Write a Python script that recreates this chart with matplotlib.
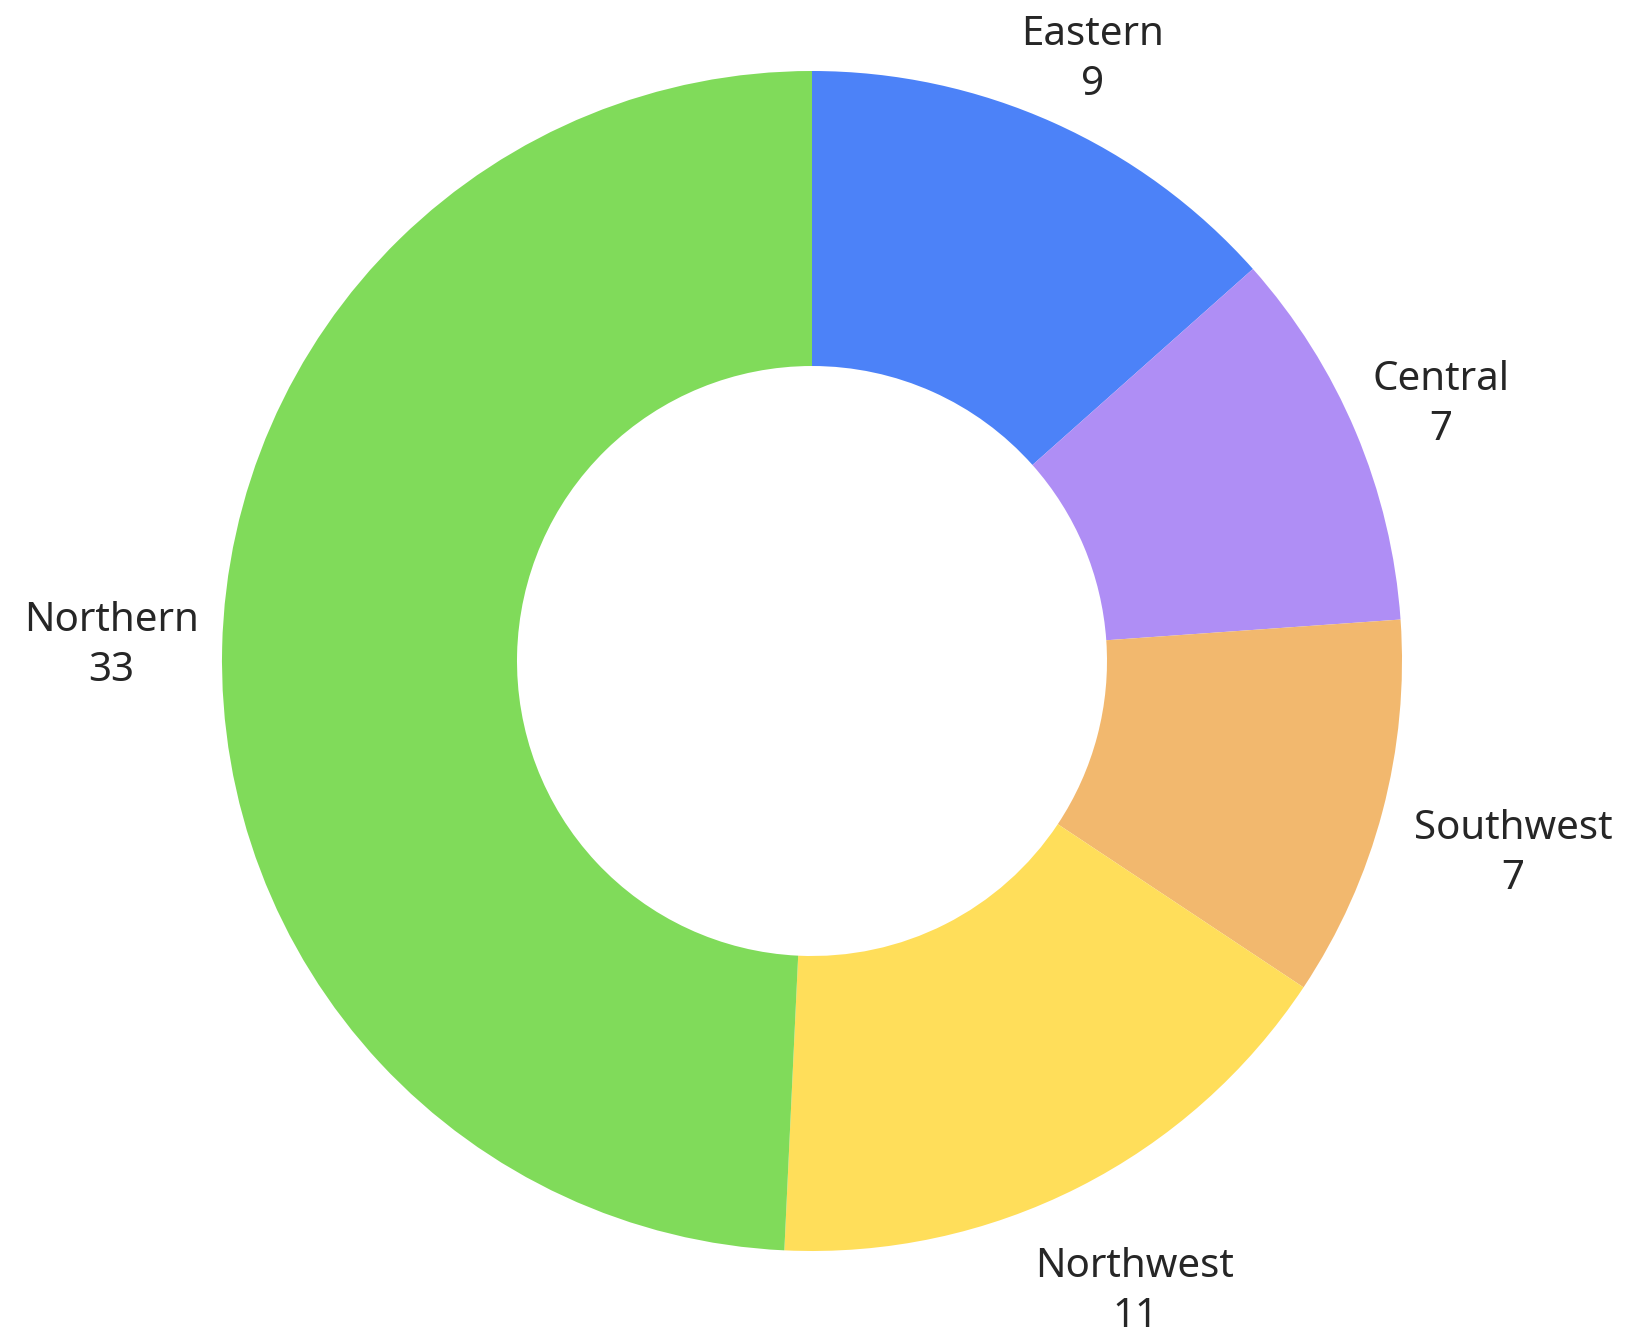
import numpy as np
import matplotlib.pyplot as plt

# data
regions = ['Eastern', 'Central', 'Southwest', 'Northwest', 'Northern']
counts = [9, 7, 7, 11, 33]
colours = ['#4C82F8', '#AF8EF5', '#F2B86E', '#FFDE5A', '#80DB5A']

plt.rcParams['font.family'] = ['Noto Sans', 'DejaVu Sans']

W, H, dpi = 1629, 1331, 100
cx, cy, R = 812, 661, 590  # pixels, centre and outer radius

fig = plt.figure(figsize=(W / dpi, H / dpi), dpi=dpi)
ax = fig.add_axes([0, 0, 1, 1])

wedges, _ = ax.pie(counts, colors=colours, startangle=90, counterclock=False,
                   radius=1.0, wedgeprops=dict(width=0.5, linewidth=0))
ax.set_aspect('auto')
ax.set_xlim(-cx / R, (W - cx) / R)
ax.set_ylim(-(H - cy) / R, cy / R)
ax.axis('off')

# labels outside, pushed out by half their box along the mid angle
fig.canvas.draw()
renderer = fig.canvas.get_renderer()
pad = 1.04
for w, name, n in zip(wedges, regions, counts):
    ang = np.deg2rad((w.theta1 + w.theta2) / 2)
    c, s = np.cos(ang), np.sin(ang)
    t = ax.text(0, 0, name + '\n' + str(n), ha='center', va='center',
                fontsize=29, color='#262626', linespacing=1.33)
    bb = t.get_window_extent(renderer)
    ww, hh = bb.width / R, bb.height / R
    x = pad * c + ww / 2 * c
    y = pad * s + hh / 2 * s
    if s < 0:  # lower labels sit a bit further out
        x += 16 * c * (1 - abs(s)) / R
        y -= (18 + 29 * (-s)) / R
    t.set_position((x, y))

fig.savefig('out.png', dpi=dpi)
